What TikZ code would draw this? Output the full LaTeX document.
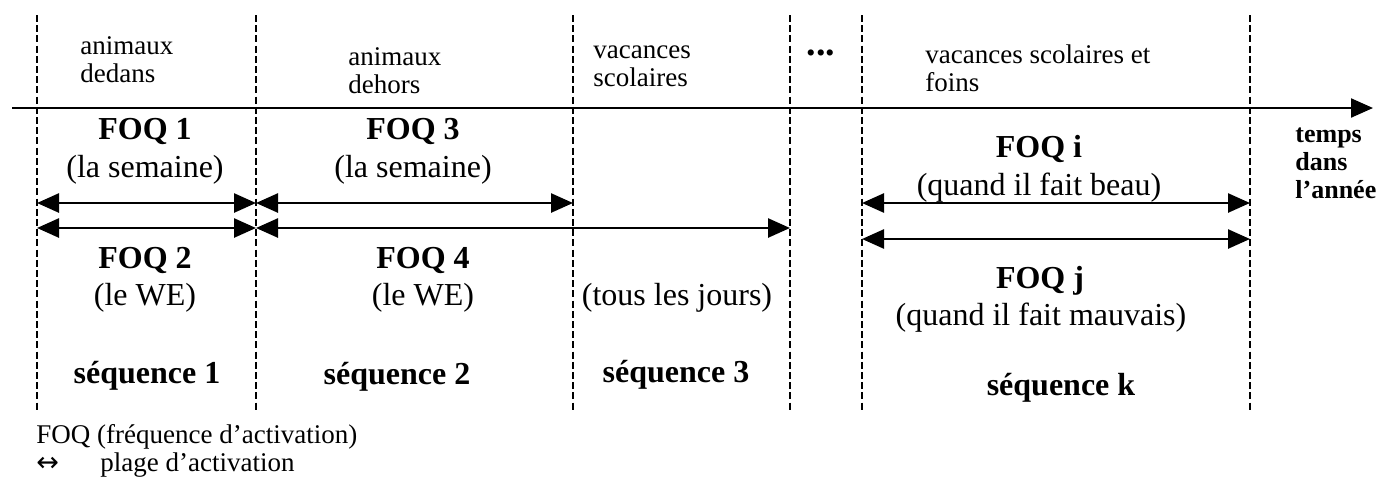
\documentclass[tikz,border=0pt]{standalone}
\usepackage{fontspec}
\setmainfont{Liberation Serif}
\newfontfamily\arrowfont{DejaVu Sans}
\usetikzlibrary{arrows.meta}
\tikzset{
  sep/.style={line width=1.2pt, dash pattern=on 3.5pt off 1.6pt},
  tri/.tip={Triangle[length=11pt,width=9.5pt]},
  span/.style={line width=1.3pt, tri-tri},
  axis/.style={line width=1.1pt, -tri},
  small/.style={font=\fontsize{13.5}{14}\selectfont, inner sep=0pt, anchor=base west, align=left},
  big/.style={font=\fontsize{16}{18}\selectfont, inner sep=0pt, anchor=base},
  bigb/.style={font=\fontsize{16}{18}\selectfont\bfseries, inner sep=0pt, anchor=base},
  side/.style={font=\fontsize{13}{14}\selectfont\bfseries, inner sep=0pt, anchor=base west, align=left},
}
\begin{document}
\begin{tikzpicture}[x=0.5pt,y=-0.5pt]
\useasboundingbox (0,0) rectangle (1381,483);

% period boundaries
\foreach \n/\x in {1/37,2/256,3/573,4/790,5/862,6/1250}{
  \coordinate (t\n) at (\x,15);
  \coordinate (b\n) at (\x,412);
  \draw[sep] (t\n) -- (b\n);
}

% time axis
\coordinate (ax0) at (12,108);
\coordinate (ax1) at (1373,108);
\draw[axis] (ax0) -- (ax1);

% period headings (anchored on the baseline of their last line)
\node[small] (h1) at (80,82) {animaux\\dedans};
\node[small] (h2) at (348,93) {animaux\\dehors};
\node[small] (h3) at (593,86) {vacances\\scolaires};
\node[bigb, anchor=base, font=\fontsize{19}{20}\selectfont\bfseries] (h4) at (821,55) {...};
\node[small] (h5) at (925,91) {vacances scolaires et\\foins};
\node[side] (unit) at (1295,198) {temps\\dans\\l'année};

% activation frequencies
\node[bigb] (f1) at (145,139) {FOQ 1};
\node[big]  (f1d) at (145,177) {(la semaine)};
\node[bigb] (f2) at (145,268) {FOQ 2};
\node[big]  (f2d) at (145,305) {(le WE)};
\node[bigb] (f3) at (413,139) {FOQ 3};
\node[big]  (f3d) at (413,177) {(la semaine)};
\node[bigb] (f4) at (423,268) {FOQ 4};
\node[big]  (f4d) at (423,305) {(le WE)};
\node[big]  (f5d) at (677,305) {(tous les jours)};
\node[bigb] (fi) at (1039,157) {FOQ i};
\node[big]  (fid) at (1039,195) {(quand il fait beau)};
\node[bigb] (fj) at (1040,288) {FOQ j};
\node[big]  (fjd) at (1041,325) {(quand il fait mauvais)};

% sequences
\node[bigb] (s1) at (147,383) {séquence 1};
\node[bigb] (s2) at (397,384) {séquence 2};
\node[bigb] (s3) at (676,382) {séquence 3};
\node[bigb] (sk) at (1061,395) {séquence k};

% activation ranges
\coordinate (r1a) at (37,203);  \coordinate (r1b) at (256,203);
\coordinate (r2a) at (37,228);  \coordinate (r2b) at (256,228);
\coordinate (r3a) at (256,203); \coordinate (r3b) at (573,203);
\coordinate (r4a) at (256,228); \coordinate (r4b) at (790,228);
\coordinate (ria) at (862,203); \coordinate (rib) at (1250,203);
\coordinate (rja) at (862,239); \coordinate (rjb) at (1250,239);
\draw[span] (r1a) -- (r1b);
\draw[span] (r2a) -- (r2b);
\draw[span] (r3a) -- (r3b);
\draw[span] (r4a) -- (r4b);
\draw[span] (ria) -- (rib);
\draw[span] (rja) -- (rjb);

% legend
\node[small] (l1) at (36,443) {FOQ (fréquence d'activation)};
\node[small] (l2s) at (36,471) {\arrowfont ↔};
\node[small] (l2) at (100,471) {plage d'activation};
\end{tikzpicture}
\end{document}
